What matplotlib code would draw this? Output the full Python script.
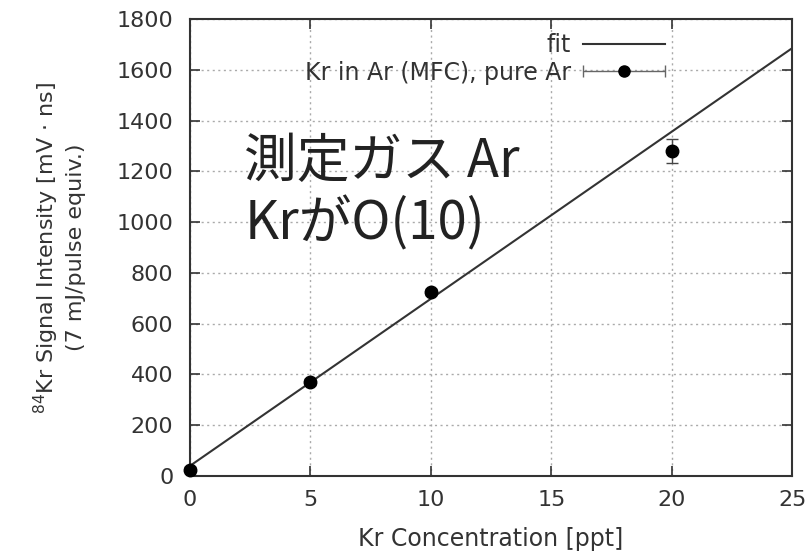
import matplotlib
matplotlib.use("Agg")
import matplotlib.pyplot as plt
from matplotlib.legend_handler import HandlerErrorbar
import numpy as np

# Data
conc = [0, 5, 10, 20]
signal = [25, 370, 725, 1280]
signal_err = [10, 12, 12, 46]
fit_intercept = 40.0
fit_slope = 65.8
x_ticks = [0, 5, 10, 15, 20, 25]
y_ticks = [0, 200, 400, 600, 800, 1000, 1200, 1400, 1600, 1800]

plt.rcParams['font.family'] = ['DejaVu Sans']

fig = plt.figure(figsize=(8.05, 5.57), dpi=100)
ax = fig.add_axes([0.236, 0.1454, 0.748, 0.8205])

fx = np.array([0, 25])
fit_line, = ax.plot(fx, fit_intercept + fit_slope * fx, color='#333333', lw=1.5, zorder=3)
ax.errorbar(conc, signal, yerr=signal_err, fmt='o', color='black', ms=9,
            ecolor='#444444', elinewidth=1, capsize=4.5, capthick=1,
            zorder=4, clip_on=False)
# legend proxy (horizontal error bar style, as in the original legend)
proxy = ax.errorbar([np.nan], [np.nan], xerr=[1], fmt='o', color='black', ms=8,
                    ecolor='#666666', elinewidth=1, capsize=4, capthick=1)

ax.set_xlim(0, 25)
ax.set_ylim(0, 1800)
ax.set_xticks(x_ticks)
ax.set_yticks(y_ticks)
ax.grid(True, color='#aaaaaa', linestyle=(0, (1.5, 2.5)), lw=1)
ax.tick_params(direction='in', top=True, right=True, length=7, width=1.2,
               labelsize=16, labelcolor='#333333', color='#333333')
ax.tick_params(axis='y', pad=12)
ax.tick_params(axis='x', pad=10)
for s in ax.spines.values():
    s.set_color('#333333')
    s.set_linewidth(1.5)

ax.set_xlabel('Kr Concentration [ppt]', fontsize=17, color='#333333', labelpad=12)
ax.set_ylabel('$^{84}$Kr Signal Intensity [mV · ns]\n(7 mJ/pulse equiv.)',
              fontsize=16, color='#333333', labelpad=22, linespacing=1.3)

leg = ax.legend([fit_line, proxy], ['fit', 'Kr in Ar (MFC), pure Ar'],
                loc='upper right', frameon=False, markerfirst=False, fontsize=17,
                handlelength=3.5, handletextpad=0.5, labelspacing=0.15, borderaxespad=0.2,
                bbox_to_anchor=(0.813, 1.0),
                handler_map={type(proxy): HandlerErrorbar(xerr_size=1.75)})
for t in leg.get_texts():
    t.set_color('#333333')

ax.text(0.09, 0.62, '測定ガス Ar\nKrがO(10)', transform=ax.transAxes,
        fontsize=38, family=['Noto Sans CJK JP', 'DejaVu Sans'],
        color='#222222', va='center', ha='left', linespacing=1.15, zorder=5)

fig.savefig('out.png', dpi=100)
